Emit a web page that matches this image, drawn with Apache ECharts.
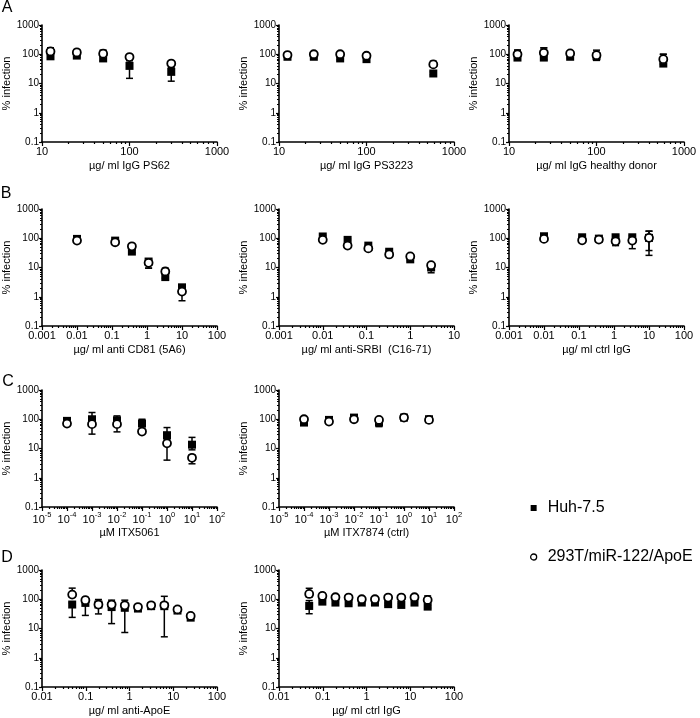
<!DOCTYPE html>
<html><head><meta charset="utf-8">
<script src="https://cdn.jsdelivr.net/npm/echarts@6/dist/echarts.min.js"></script>
<style>html,body{margin:0;padding:0;background:#fff}#c{width:700px;height:718px}</style>
</head><body><div id="c"></div><script>
// ---------- DATA ----------
const seriesNames = ['Huh-7.5', '293T/miR-122/ApoE'];
const panelLetters = ['A', 'B', 'C', 'D'];
const yLabelName = '% infection';

// Panel A1
const a1Name = 'µg/ ml IgG PS62';
const a1X = [12.5, 25, 50, 100, 300];
const a1HuhY = [85, 90, 72, 40, 25];
const a1HuhLo = [70, 80, 60, 15, 12];
const a1HuhHi = [165, 145, 137, 60, 35];
const a1ApoY = [125, 115, 105, 80, 48];
const a1ApoLo = [110, 105, 95, 72, 44];
const a1ApoHi = [165, 140, 135, 90, 55];
// Panel A2
const a2Name = 'µg/ ml IgG PS3223';
const a2X = [12.5, 25, 50, 100, 580];
const a2HuhY = [82, 82, 72, 68, 22];
const a2HuhLo = [75, 75, 65, 62, 20];
const a2HuhHi = [90, 90, 80, 75, 25];
const a2ApoY = [94, 100, 100, 89, 45];
const a2ApoLo = [88, 92, 92, 82, 38];
const a2ApoHi = [100, 108, 108, 96, 58];
// Panel A3
const a3Name = 'µg/ ml IgG healthy donor';
const a3X = [12.5, 25, 50, 100, 580];
const a3HuhY = [77, 77, 82, 85, 48];
const a3HuhLo = [70, 65, 75, 62, 45];
const a3HuhHi = [138, 165, 120, 138, 100];
const a3ApoY = [100, 112, 107, 93, 68];
const a3ApoLo = [90, 100, 98, 62, 48];
const a3ApoHi = [138, 165, 125, 115, 100];
// Panel B1
const b1Name = 'µg/ ml anti CD81 (5A6)';
const b1X = [0.01, 0.123, 0.37, 1.11, 3.33, 10];
const b1HuhY = [95, 83, 35, 16, 4.7, 2.1];
const b1HuhLo = [90, 78, 32, 9.5, 4.3, 1.9];
const b1HuhHi = [100, 90, 40, 19, 9.5, 2.4];
const b1ApoY = [83, 73, 53, 14.4, 7.3, 1.5];
const b1ApoLo = [80, 70, 50, 9.5, 6.5, 0.73];
const b1ApoHi = [88, 78, 58, 16, 8, 1.7];
// Panel B2
const b2Name = 'µg/ ml anti-SRBI  (C16-71)';
const b2X = [0.01, 0.037, 0.11, 0.33, 1, 3];
const b2HuhY = [115, 88, 56, 34.6, 19, 10];
const b2HuhLo = [105, 82, 52, 32, 17, 6.6];
const b2HuhHi = [125, 95, 60, 38, 22, 11];
const b2ApoY = [88, 56, 45, 28, 24, 12];
const b2ApoLo = [84, 53, 43, 26, 22, 11];
const b2ApoHi = [92, 59, 47, 30, 26, 13];
// Panel B3
const b3Name = 'µg/ ml ctrl IgG';
const b3X = [0.01, 0.123, 0.37, 1.11, 3.33, 10];
const b3HuhY = [117, 108, 97, 108, 108, 103];
const b3HuhLo = [110, 100, 90, 95, 95, 26];
const b3HuhHi = [125, 115, 105, 120, 120, 175];
const b3ApoY = [95, 85, 90, 79, 83, 103];
const b3ApoLo = [90, 80, 85, 56, 44, 38];
const b3ApoHi = [100, 90, 95, 90, 95, 175];
// Panel C1
const c1Name = 'µM ITX5061';
const c1X = [1e-4, 1e-3, 1e-2, 1e-1, 1, 10];
const c1HuhY = [88, 100, 92, 71, 28.5, 13.5];
const c1HuhLo = [80, 80, 75, 60, 20, 9];
const c1HuhHi = [95, 170, 130, 100, 52, 24];
const c1ApoY = [71, 68, 68, 38, 15, 4.8];
const c1ApoLo = [65, 31, 37, 35, 4, 3];
const c1ApoHi = [78, 90, 85, 42, 25, 6];
// Panel C2
const c2Name = 'µM ITX7874 (ctrl)';
const c2X = [1e-4, 1e-3, 1e-2, 1e-1, 1, 10];
const c2HuhY = [77, 95, 114, 77, 114, 100];
const c2HuhLo = [72, 90, 108, 56, 108, 95];
const c2HuhHi = [82, 100, 120, 95, 120, 105];
const c2ApoY = [100, 83, 100, 95, 114, 95];
const c2ApoLo = [95, 78, 95, 90, 108, 90];
const c2ApoHi = [105, 88, 105, 100, 120, 100];
// Panel D1
const d1Name = 'µg/ ml anti-ApoE';
const d1X = [0.049, 0.098, 0.195, 0.39, 0.78, 1.56, 3.125, 6.25, 12.5, 25];
const d1HuhY = [66, 75, 66, 54, 51, 48, 58, 58, 41, 23.5];
const d1HuhLo = [24, 28, 31.5, 14.7, 7.3, 44, 52, 5.2, 38, 22];
const d1HuhHi = [75, 85, 75, 62, 58, 54, 65, 65, 45, 26];
const d1ApoY = [144, 93, 66, 66, 62, 54, 62, 62, 45, 27];
const d1ApoLo = [120, 85, 60, 60, 55, 50, 56, 56, 42, 25];
const d1ApoHi = [240, 116, 98, 93, 93, 60, 70, 126, 50, 30];
// Panel D2
const d2Name = 'µg/ ml ctrl IgG';
const d2X = [0.049, 0.098, 0.195, 0.39, 0.78, 1.56, 3.125, 6.25, 12.5, 25];
const d2HuhY = [59, 83, 77, 73, 77, 77, 68, 64, 77, 56];
const d2HuhLo = [32, 75, 70, 66, 70, 70, 62, 58, 70, 50];
const d2HuhHi = [90, 90, 84, 80, 84, 84, 74, 70, 84, 62];
const d2ApoY = [152, 130, 117, 114, 100, 100, 114, 114, 117, 95];
const d2ApoLo = [120, 115, 105, 100, 90, 90, 105, 105, 105, 85];
const d2ApoHi = [237, 160, 130, 125, 110, 110, 125, 125, 130, 130];

// axis ranges (decades)
const yRange = [0.1, 1000];
const xRangeA = [10, 1000];
const xRangeB1 = [0.001, 100];
const xRangeB2 = [0.001, 10];
const xRangeC = [1e-5, 1e2];
const xRangeD = [0.01, 100];

// ---------- LAYOUT ----------
const colLeft = [42, 279, 509];
const rowTop = [25, 209, 390, 570];
const gw = 175, gh = 117;
const FONT = 'Liberation Sans, Arial, sans-serif';

const panels = [
  {c:0,r:0,name:a1Name,x:a1X,hy:a1HuhY,hl:a1HuhLo,hh:a1HuhHi,ay:a1ApoY,al:a1ApoLo,ah:a1ApoHi,xr:xRangeA},
  {c:1,r:0,name:a2Name,x:a2X,hy:a2HuhY,hl:a2HuhLo,hh:a2HuhHi,ay:a2ApoY,al:a2ApoLo,ah:a2ApoHi,xr:xRangeA},
  {c:2,r:0,name:a3Name,x:a3X,hy:a3HuhY,hl:a3HuhLo,hh:a3HuhHi,ay:a3ApoY,al:a3ApoLo,ah:a3ApoHi,xr:xRangeA},
  {c:0,r:1,name:b1Name,x:b1X,hy:b1HuhY,hl:b1HuhLo,hh:b1HuhHi,ay:b1ApoY,al:b1ApoLo,ah:b1ApoHi,xr:xRangeB1},
  {c:1,r:1,name:b2Name,x:b2X,hy:b2HuhY,hl:b2HuhLo,hh:b2HuhHi,ay:b2ApoY,al:b2ApoLo,ah:b2ApoHi,xr:xRangeB2},
  {c:2,r:1,name:b3Name,x:b3X,hy:b3HuhY,hl:b3HuhLo,hh:b3HuhHi,ay:b3ApoY,al:b3ApoLo,ah:b3ApoHi,xr:xRangeB1},
  {c:0,r:2,name:c1Name,x:c1X,hy:c1HuhY,hl:c1HuhLo,hh:c1HuhHi,ay:c1ApoY,al:c1ApoLo,ah:c1ApoHi,xr:xRangeC,sup:true},
  {c:1,r:2,name:c2Name,x:c2X,hy:c2HuhY,hl:c2HuhLo,hh:c2HuhHi,ay:c2ApoY,al:c2ApoLo,ah:c2ApoHi,xr:xRangeC,sup:true},
  {c:0,r:3,name:d1Name,x:d1X,hy:d1HuhY,hl:d1HuhLo,hh:d1HuhHi,ay:d1ApoY,al:d1ApoLo,ah:d1ApoHi,xr:xRangeD},
  {c:1,r:3,name:d2Name,x:d2X,hy:d2HuhY,hl:d2HuhLo,hh:d2HuhHi,ay:d2ApoY,al:d2ApoLo,ah:d2ApoHi,xr:xRangeD}
];

function decades(r){const a=[];const e0=Math.round(Math.log10(r[0])),e1=Math.round(Math.log10(r[1]));for(let e=e0;e<=e1;e++)a.push(Math.pow(10,e));return a;}
function minors(r){const a=[];const e0=Math.round(Math.log10(r[0])),e1=Math.round(Math.log10(r[1]));for(let e=e0;e<e1;e++)for(let k=2;k<=9;k++)a.push(k*Math.pow(10,e));return a;}
function plainFmt(v){const e=Math.round(Math.log10(v));return e<0?Math.pow(10,e).toFixed(-e):String(Math.round(Math.pow(10,e)));}
function supFmt(v){const e=Math.round(Math.log10(v));return '{b|10}{s|'+e+'}';}

const axisLine = {lineStyle:{color:'#000',width:1.6}};
const tickStyle = {color:'#000',width:1.2};

const grid=[],xAxis=[],yAxis=[],series=[];
panels.forEach((p,i)=>{
  grid.push({left:colLeft[p.c],top:rowTop[p.r],width:gw,height:gh});
  const xd=decades(p.xr), yd=decades(yRange);
  xAxis.push({type:'log',logBase:10,gridIndex:i,position:'bottom',min:p.xr[0],max:p.xr[1],
    axisLine, splitLine:{show:false},
    axisTick:{length:4,lineStyle:tickStyle,customValues:xd},
    axisLabel:{customValues:xd,margin:4,color:'#000',fontSize:11,fontFamily:FONT,
      formatter:p.sup?supFmt:plainFmt,
      rich:{b:{fontSize:11,fontFamily:FONT,color:'#000',lineHeight:14,verticalAlign:'bottom'},
            s:{fontSize:7.5,fontFamily:FONT,color:'#000',lineHeight:9,verticalAlign:'top'}}},
    name:p.name,nameLocation:'middle',nameGap:p.sup?20:18,
    nameTextStyle:{color:'#000',fontSize:11,fontFamily:FONT}});
  xAxis.push({type:'log',logBase:10,gridIndex:i,position:'bottom',min:p.xr[0],max:p.xr[1],
    axisLine:{show:false},splitLine:{show:false},axisLabel:{show:false},
    axisTick:{length:2,lineStyle:tickStyle,customValues:minors(p.xr)}});
  yAxis.push({type:'log',logBase:10,gridIndex:i,position:'left',min:yRange[0],max:yRange[1],
    axisLine, splitLine:{show:false},
    axisTick:{length:3,lineStyle:tickStyle,customValues:yd},
    axisLabel:{customValues:yd,margin:3,color:'#000',fontSize:10,fontFamily:FONT,formatter:plainFmt},
    name:yLabelName,nameLocation:'middle',nameGap:22,
    nameTextStyle:{color:'#000',fontSize:11,fontFamily:FONT}});
  yAxis.push({type:'log',logBase:10,gridIndex:i,position:'left',min:yRange[0],max:yRange[1],
    axisLine:{show:false},splitLine:{show:false},axisLabel:{show:false},
    axisTick:{length:2,lineStyle:tickStyle,customValues:minors(yRange)}});
  const xi=2*i, yi=2*i;
  const errItem=(params,api)=>{
    const x=api.value(0),lo=api.value(1),hi=api.value(2);
    const a=api.coord([x,lo]),b=api.coord([x,hi]);const w=3.5;
    const st={stroke:'#000',lineWidth:1.5};
    return {type:'group',children:[
      {type:'line',shape:{x1:a[0],y1:a[1],x2:b[0],y2:b[1]},style:st},
      {type:'line',shape:{x1:a[0]-w,y1:a[1],x2:a[0]+w,y2:a[1]},style:st},
      {type:'line',shape:{x1:b[0]-w,y1:b[1],x2:b[0]+w,y2:b[1]},style:st}]};
  };
  series.push({type:'custom',xAxisIndex:xi,yAxisIndex:yi,z:2,silent:true,renderItem:errItem,
    encode:{x:0,y:[1,2]},data:p.x.map((v,j)=>[v,p.hl[j],p.hh[j]])});
  series.push({type:'custom',xAxisIndex:xi,yAxisIndex:yi,z:2,silent:true,renderItem:errItem,
    encode:{x:0,y:[1,2]},data:p.x.map((v,j)=>[v,p.al[j],p.ah[j]])});
  series.push({type:'scatter',name:seriesNames[0],xAxisIndex:xi,yAxisIndex:yi,z:3,
    symbol:'rect',symbolSize:8,itemStyle:{color:'#000',opacity:1},
    data:p.x.map((v,j)=>[v,p.hy[j]])});
  series.push({type:'scatter',name:seriesNames[1],xAxisIndex:xi,yAxisIndex:yi,z:4,
    symbol:'circle',symbolSize:8,itemStyle:{color:'#fff',borderColor:'#000',borderWidth:1.8,opacity:1},
    data:p.x.map((v,j)=>[v,p.ay[j]])});
});

const letterPos=[[7,8],[6,194],[8,382],[7,558]];
const chart=echarts.init(document.getElementById('c'),null,{renderer:'canvas'});
chart.setOption({
  animation:false,
  backgroundColor:'#fff',
  grid,xAxis,yAxis,series,
  legend:{orient:'vertical',left:525,top:493,itemWidth:6,itemHeight:6,itemGap:29,
    selectedMode:false,
    data:[{name:seriesNames[0],icon:'rect'},{name:seriesNames[1],icon:'circle',itemStyle:{color:'#fff',borderColor:'#000',borderWidth:1.3,opacity:1}}],
    textStyle:{color:'#000',fontSize:16,fontFamily:FONT,lineHeight:20,padding:[0,0,0,6]}},
  graphic:panelLetters.map((t,k)=>({type:'text',style:{text:t,x:letterPos[k][0],y:letterPos[k][1],
    align:'center',verticalAlign:'middle',fill:'#000',font:'16px '+FONT}}))
});
</script></body></html>
